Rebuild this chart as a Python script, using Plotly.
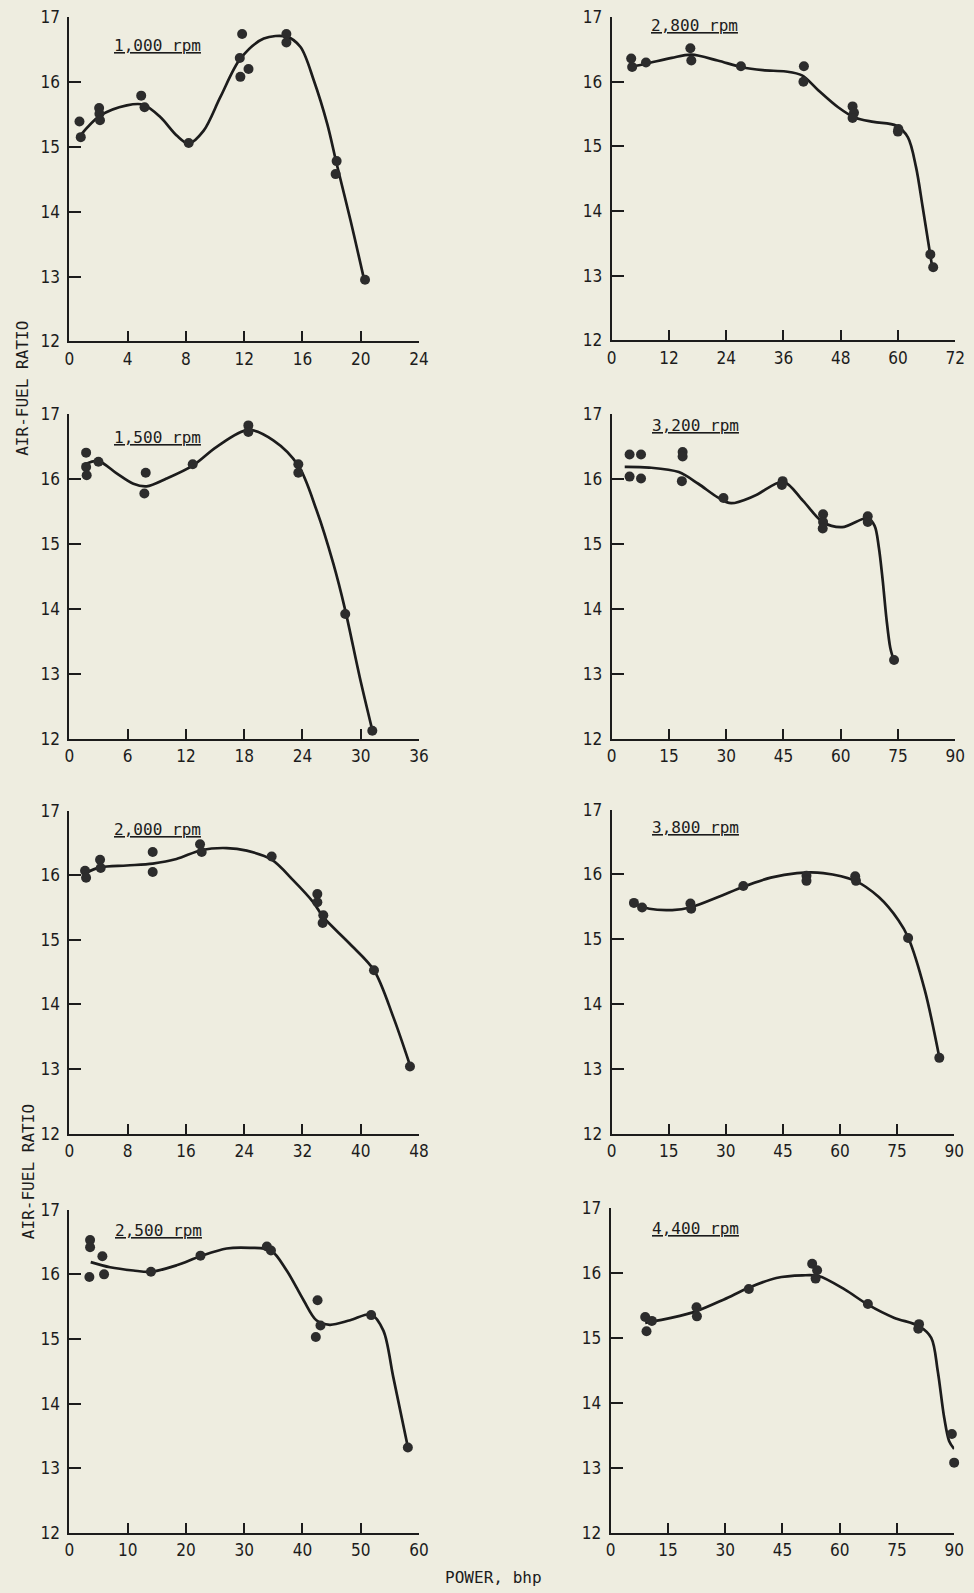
import plotly.graph_objects as go

W, H = 974, 1593
BG = "#eeede0"
INK = "#1c1c1c"
DOT = "#2c2c2c"
FONT = "DejaVu Sans Condensed, Liberation Sans Narrow, sans-serif"
MONO = "DejaVu Sans Mono, Liberation Mono, monospace"

# ---------------- data (power bhp, air-fuel ratio) ----------------
labels = ["1,000 rpm", "2,800 rpm", "1,500 rpm", "3,200 rpm",
          "2,000 rpm", "3,800 rpm", "2,500 rpm", "4,400 rpm"]

xmax = [24, 72, 36, 90, 48, 90, 60, 90]
xstep = [4, 12, 6, 15, 8, 15, 10, 15]
y_ticks = [12, 13, 14, 15, 16, 17]

pts_1000_x = [0.69, 0.78, 2.04, 2.06, 2.1, 4.93, 5.16, 8.19, 11.86, 11.7, 11.74, 12.3, 14.9, 14.9, 18.35, 18.28, 20.3]
pts_1000_y = [15.39, 15.15, 15.60, 15.51, 15.41, 15.79, 15.61, 15.06, 16.74, 16.37, 16.08, 16.20, 16.74, 16.61, 14.78, 14.58, 12.95]
crv_1000_x = [0.73, 2.11, 3.94, 5.09, 6.24, 7.39, 8.19, 9.22, 10.37, 11.74, 13.35, 14.91, 15.87, 16.79, 17.71, 18.35, 19.31, 20.23]
crv_1000_y = [15.17, 15.48, 15.64, 15.65, 15.46, 15.17, 15.05, 15.25, 15.77, 16.36, 16.67, 16.70, 16.54, 16.02, 15.35, 14.74, 13.86, 12.96]

pts_2800_x = [4.1, 4.3, 7.2, 16.5, 16.7, 27.1, 40.3, 40.2, 50.5, 50.8, 50.5, 60.1, 60.0, 66.8, 67.4]
pts_2800_y = [16.36, 16.23, 16.30, 16.52, 16.33, 16.24, 16.24, 16.00, 15.62, 15.52, 15.44, 15.27, 15.23, 13.33, 13.13]
crv_2800_x = [3.75, 7.17, 12.6, 16.7, 22.2, 27.1, 31.7, 36.5, 39.9, 43.3, 47.4, 50.9, 54.9, 59.7, 62.1, 63.8, 65.2, 67.2]
crv_2800_y = [16.23, 16.28, 16.37, 16.42, 16.33, 16.23, 16.18, 16.16, 16.10, 15.87, 15.61, 15.45, 15.38, 15.32, 15.14, 14.68, 14.06, 13.13]

pts_1500_x = [1.72, 1.72, 1.78, 2.99, 7.86, 7.72, 12.7, 18.43, 18.43, 23.58, 23.58, 28.41, 31.2]
pts_1500_y = [16.41, 16.19, 16.06, 16.27, 16.10, 15.78, 16.23, 16.83, 16.73, 16.23, 16.10, 13.92, 12.12]
crv_1500_x = [1.61, 2.99, 4.87, 6.59, 7.96, 10.0, 12.7, 15.17, 18.43, 21.0, 23.58, 25.46, 27.18, 28.41, 29.9, 31.2]
crv_1500_y = [16.23, 16.28, 16.09, 15.93, 15.89, 16.01, 16.21, 16.50, 16.76, 16.60, 16.21, 15.52, 14.70, 13.98, 12.95, 12.13]

pts_3200_x = [4.7, 4.7, 7.7, 7.7, 18.6, 18.6, 18.4, 29.3, 44.8, 44.6, 55.4, 55.4, 55.3, 67.1, 67.1, 74.0]
pts_3200_y = [16.38, 16.04, 16.38, 16.01, 16.42, 16.35, 15.97, 15.71, 15.97, 15.91, 15.46, 15.34, 15.24, 15.43, 15.34, 13.21]
crv_3200_x = [3.43, 9.85, 17.6, 22.7, 27.8, 31.3, 37.3, 45.0, 50.1, 55.3, 60.4, 67.1, 68.9, 70.0, 71.0, 72.0, 73.0, 73.9]
crv_3200_y = [16.19, 16.18, 16.11, 15.93, 15.72, 15.63, 15.74, 15.96, 15.67, 15.34, 15.26, 15.40, 15.28, 14.95, 14.45, 13.85, 13.40, 13.21]

pts_2000_x = [2.15, 2.29, 4.21, 4.3, 11.44, 11.44, 17.94, 18.17, 27.78, 34.05, 34.05, 34.87, 34.78, 41.83, 46.77]
pts_2000_y = [16.07, 15.96, 16.24, 16.11, 16.36, 16.05, 16.48, 16.36, 16.29, 15.71, 15.58, 15.38, 15.26, 14.53, 13.04]
crv_2000_x = [2.15, 4.21, 7.87, 11.44, 14.7, 18.17, 21.6, 24.35, 27.78, 30.75, 33.5, 34.87, 38.5, 41.83, 44.5, 46.77]
crv_2000_y = [16.03, 16.12, 16.15, 16.18, 16.25, 16.39, 16.42, 16.38, 16.24, 15.92, 15.58, 15.35, 14.94, 14.53, 13.80, 13.06]

pts_3800_x = [5.86, 8.0, 20.7, 20.9, 34.6, 51.2, 51.2, 64.0, 64.2, 77.9, 86.1]
pts_3800_y = [15.56, 15.49, 15.55, 15.47, 15.82, 15.98, 15.90, 15.97, 15.90, 15.02, 13.17]
crv_3800_x = [5.86, 9.9, 15.9, 20.7, 28.0, 34.6, 41.8, 48.7, 55.6, 64.0, 70.2, 75.4, 77.9, 82.3, 86.1]
crv_3800_y = [15.55, 15.47, 15.45, 15.49, 15.65, 15.81, 15.95, 16.02, 16.02, 15.90, 15.65, 15.29, 15.03, 14.21, 13.18]

pts_2500_x = [3.55, 3.55, 3.43, 5.66, 5.95, 14.0, 22.5, 33.9, 34.6, 42.6, 42.3, 43.1, 51.8, 58.1]
pts_2500_y = [16.53, 16.42, 15.96, 16.28, 16.00, 16.04, 16.29, 16.43, 16.37, 15.60, 15.03, 15.21, 15.37, 13.32]
crv_2500_x = [3.66, 6.98, 10.98, 14.0, 18.4, 22.5, 27.0, 31.0, 34.6, 37.3, 40.2, 42.4, 44.7, 48.2, 51.8, 53.9, 55.6, 58.1]
crv_2500_y = [16.19, 16.11, 16.06, 16.04, 16.14, 16.28, 16.40, 16.41, 16.37, 16.06, 15.60, 15.29, 15.22, 15.29, 15.38, 15.13, 14.41, 13.33]

pts_4400_x = [9.06, 10.8, 9.4, 22.5, 22.6, 36.2, 52.8, 54.1, 53.7, 67.4, 80.8, 80.6, 89.4, 90.5, 90.0]
pts_4400_y = [15.32, 15.26, 15.10, 15.47, 15.33, 15.75, 16.14, 16.04, 15.91, 15.52, 15.21, 15.14, 13.52, 13.54, 13.08]
crv_4400_x = [9.06, 16.1, 22.5, 29.7, 36.2, 43.4, 50.3, 54.5, 61.4, 67.4, 74.2, 80.8, 84.0, 85.7, 87.4, 88.7, 90.0]
crv_4400_y = [15.23, 15.31, 15.41, 15.59, 15.77, 15.92, 15.96, 15.95, 15.74, 15.51, 15.31, 15.18, 15.00, 14.49, 13.77, 13.41, 13.29]

points = [(pts_1000_x, pts_1000_y), (pts_2800_x, pts_2800_y), (pts_1500_x, pts_1500_y), (pts_3200_x, pts_3200_y),
          (pts_2000_x, pts_2000_y), (pts_3800_x, pts_3800_y), (pts_2500_x, pts_2500_y), (pts_4400_x, pts_4400_y)]
curves = [(crv_1000_x, crv_1000_y), (crv_2800_x, crv_2800_y), (crv_1500_x, crv_1500_y), (crv_3200_x, crv_3200_y),
          (crv_2000_x, crv_2000_y), (crv_3800_x, crv_3800_y), (crv_2500_x, crv_2500_y), (crv_4400_x, crv_4400_y)]

# ---------------- layout geometry (target pixels in the photographed page) ----------------
dom_px = [  # (left, right, top, bottom)
    (69, 419, 17, 341), (612, 956, 17, 340),
    (69, 419, 414, 738), (612, 956, 414, 738),
    (69, 419, 810, 1133), (612, 955, 809, 1133),
    (69, 419, 1209, 1532), (611, 955, 1207, 1532),
]
label_px = [(112, 45), (649, 25), (112, 437), (650, 425),
            (112, 829), (650, 827), (113, 1230), (650, 1228)]

# the photographed page shows the figure slightly reduced and offset;
# compensate so targets land where intended
OX, SX = 4.5, 0.986
OY, SY = 9.8, 0.987


def px_x(p):
    return min(max((p - OX) / SX / W, 0.0), 1.0)


def px_y(p):
    return min(max(1 - (p - OY) / SY / H, 0.0), 1.0)


FS = 17 / SX * 0.99
MS = 16 / SX * 0.99

fig = go.Figure()
layout = dict(
    width=W, height=H, margin=dict(l=0, r=0, t=0, b=0),
    paper_bgcolor=BG, plot_bgcolor=BG, showlegend=False,
    font=dict(family=FONT, size=FS, color=INK),
)
annotations = []

for i in range(8):
    n = "" if i == 0 else str(i + 1)
    l, r, t, b = dom_px[i]
    px, py = points[i]
    cx, cy = curves[i]
    fig.add_trace(go.Scatter(x=cx, y=cy, mode="lines", xaxis="x" + n, yaxis="y" + n,
                             line=dict(color=INK, width=2.7, shape="spline", smoothing=0.9),
                             hoverinfo="skip"))
    fig.add_trace(go.Scatter(x=px, y=py, mode="markers", xaxis="x" + n, yaxis="y" + n,
                             marker=dict(color=DOT, size=10, line=dict(width=0)),
                             cliponaxis=False))
    xt = list(range(0, xmax[i] + 1, xstep[i]))
    layout["xaxis" + n] = dict(
        domain=[px_x(l), px_x(r)], anchor="y" + n, range=[0, xmax[i]],
        tickvals=xt, ticktext=[str(v) for v in xt], ticks="inside", ticklen=10, tickwidth=2,
        tickcolor=INK, showline=True, linecolor=INK, linewidth=2, showgrid=False, zeroline=False,
        tickfont=dict(family=FONT, size=FS, color=INK), ticklabelstandoff=1,
    )
    layout["yaxis" + n] = dict(
        domain=[px_y(b), px_y(t)], anchor="x" + n, range=[12, 17],
        tickvals=y_ticks, ticktext=[str(v) for v in y_ticks], ticks="inside", ticklen=12, tickwidth=2,
        tickcolor=INK, showline=True, linecolor=INK, linewidth=2, showgrid=False, zeroline=False,
        tickfont=dict(family=FONT, size=FS, color=INK), ticklabelstandoff=4,
    )
    lx, ly = label_px[i]
    annotations.append(dict(
        text="<u>" + labels[i] + "</u>", x=px_x(lx), y=px_y(ly), xref="paper", yref="paper",
        xanchor="left", yanchor="middle", showarrow=False,
        font=dict(family=MONO, size=MS, color=INK),
    ))

annotations.append(dict(text="AIR-FUEL RATIO", x=px_x(22), y=px_y(388), xref="paper", yref="paper",
                        textangle=-90, showarrow=False, xanchor="center", yanchor="middle",
                        font=dict(family=MONO, size=MS, color=INK)))
annotations.append(dict(text="AIR-FUEL RATIO", x=px_x(28), y=px_y(1171), xref="paper", yref="paper",
                        textangle=-90, showarrow=False, xanchor="center", yanchor="middle",
                        font=dict(family=MONO, size=MS, color=INK)))
annotations.append(dict(text="POWER, bhp", x=px_x(494), y=px_y(1577), xref="paper", yref="paper",
                        showarrow=False, xanchor="center", yanchor="middle",
                        font=dict(family=MONO, size=MS, color=INK)))

layout["annotations"] = annotations
fig.update_layout(**layout)
fig.write_html("out.html", config={"displayModeBar": False},
               post_script="document.body.style.margin='0';document.body.style.background='" + BG + "';")
